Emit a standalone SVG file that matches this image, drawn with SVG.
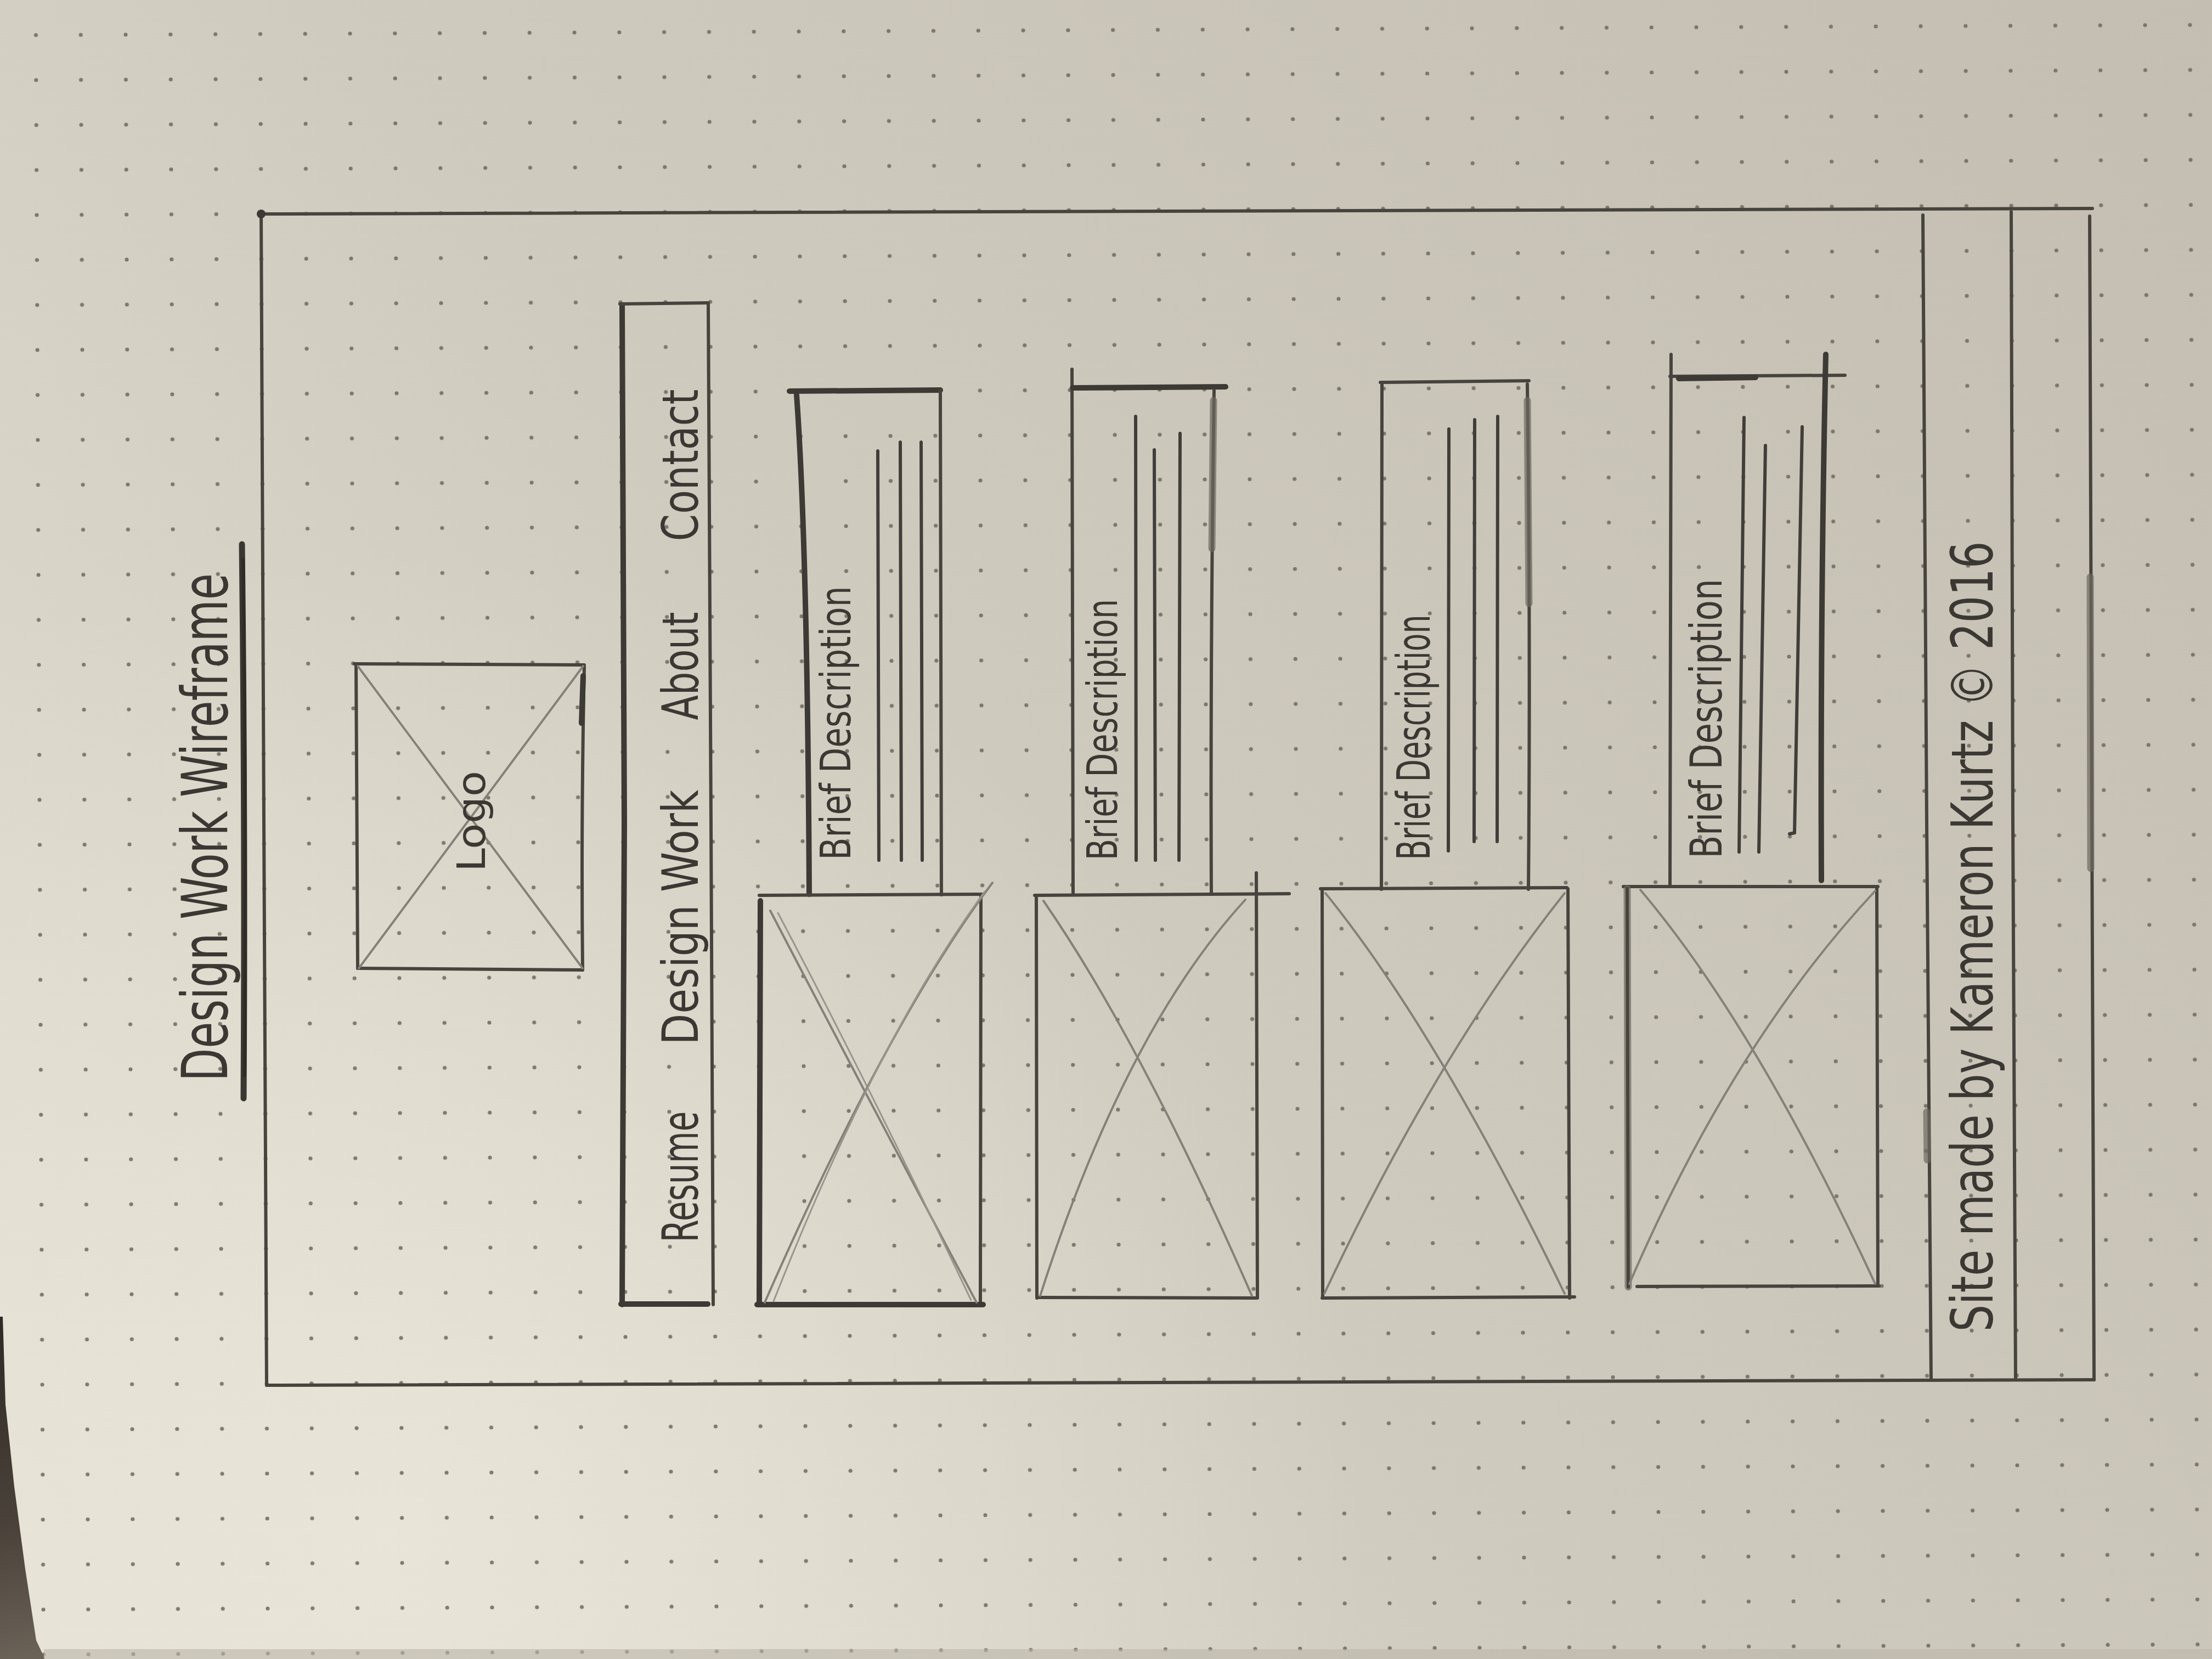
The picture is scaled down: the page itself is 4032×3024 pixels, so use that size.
<svg xmlns="http://www.w3.org/2000/svg" width="4032" height="3024" viewBox="0 0 4032 3024">
  <defs>
    <linearGradient id="paperTone" x1="0" y1="3024" x2="4032" y2="0" gradientUnits="userSpaceOnUse">
      <stop offset="0" stop-color="#e4e0d4"/>
      <stop offset="0.45" stop-color="#d0cbbf"/>
      <stop offset="1" stop-color="#c3beb1"/>
    </linearGradient>
    <radialGradient id="paperGlow" cx="700" cy="2800" r="1800" gradientUnits="userSpaceOnUse">
      <stop offset="0" stop-color="#ece8dc" stop-opacity="0.75"/>
      <stop offset="1" stop-color="#ece8dc" stop-opacity="0"/>
    </radialGradient>
    <linearGradient id="deskShade" x1="0" y1="2400" x2="80" y2="3024" gradientUnits="userSpaceOnUse">
      <stop offset="0" stop-color="#2f2a25"/>
      <stop offset="0.6" stop-color="#4a423a"/>
      <stop offset="1" stop-color="#6b6358"/>
    </linearGradient>
    <!-- dotted notebook grid, slightly tilted like the page -->
    <pattern id="dots" x="435.1" y="349" width="81.8" height="82" patternUnits="userSpaceOnUse" patternTransform="rotate(-0.27 476 390)">
      <circle cx="40.9" cy="41" r="3.6" fill="#6d685f" fill-opacity="0.85"/>
    </pattern>
    <style>
      .ln { fill: none; stroke: #47433d; stroke-width: 6; stroke-linecap: round; stroke-linejoin: round; }
      .thk { fill: none; stroke: #3d3934; stroke-width: 10; stroke-linecap: round; }
      .smudge { fill: none; stroke: #6e6961; stroke-width: 13; stroke-linecap: round; stroke-opacity: 0.7; }
      .xl { fill: none; stroke: #858078; stroke-width: 4; stroke-linecap: round; }
      .xf { fill: none; stroke: #9a958c; stroke-width: 3; stroke-linecap: round; }
      .rl { fill: none; stroke: #413d38; stroke-width: 6; stroke-linecap: round; }
      .txt { font-family: "Liberation Sans Narrow", "DejaVu Sans Condensed", "Liberation Sans", sans-serif; fill: #3b3833; }
    </style>
  </defs>

  <!-- paper -->
  <g id="paper">
    <rect x="0" y="0" width="4032" height="3024" fill="url(#paperTone)"/>
    <rect x="0" y="0" width="4032" height="3024" fill="url(#paperGlow)"/>
    <rect x="0" y="0" width="4032" height="3024" fill="url(#dots)"/>
    <path d="M0 2400 L5 2400 L10 2560 L26 2710 L46 2860 L66 2990 L82 3024 L0 3024 Z" fill="url(#deskShade)"/>
    <rect x="80" y="3006" width="3952" height="18" fill="#bbb6a9" opacity="0.6"/>
  </g>

  <!-- page outline -->
  <g id="page-frame">
    <path class="ln" d="M476 390 L3814 380"/>
    <path class="ln" d="M476 390 L481 1500 L486 2525"/>
    <path class="ln" d="M486 2525 L3817 2515"/>
    <path class="ln" d="M3809 394 L3813 1500 L3817 2515"/>
    <path class="smudge" d="M3810 1052 L3811 1583"/>
    <circle cx="476" cy="390" r="8" fill="#3d3934"/>
  </g>

  <!-- page title -->
  <g id="title">
    <text class="txt" transform="translate(414,1508) rotate(-90)" text-anchor="middle" font-size="115" textLength="926" lengthAdjust="spacingAndGlyphs">Design Work Wireframe</text>
    <path d="M441 992 Q447 1500 444 2002" fill="none" stroke="#3a3631" stroke-width="11" stroke-linecap="round"/>
    <path d="M443 1020 Q449 1500 446 1960" fill="none" stroke="#2f2b27" stroke-width="6" stroke-linecap="round"/>
  </g>

  <!-- logo placeholder -->
  <g id="logo">
    <path class="ln" d="M646 1210 L1065 1212"/>
    <path class="ln" d="M649 1212 L652 1765"/>
    <path class="ln" d="M652 1765 L1062 1768"/>
    <path class="ln" d="M1065 1215 Q1059 1500 1062 1768"/>
    <path class="thk" d="M1063 1232 L1060 1318"/>
    <path class="xl" d="M652 1214 L1062 1765"/>
    <path class="xl" d="M1063 1214 L654 1765"/>
    <text class="txt" transform="translate(884,1497) rotate(-90)" text-anchor="middle" font-size="72" textLength="184" lengthAdjust="spacingAndGlyphs">Logo</text>
  </g>

  <!-- navigation bar -->
  <g id="nav">
    <path class="thk" d="M1134 556 L1138 1500 L1134 2378" stroke-width="8"/>
    <path class="ln" d="M1130 554 L1291 552"/>
    <path class="ln" d="M1291 554 L1296 1500 L1300 2378"/>
    <path class="thk" d="M1132 2377 L1290 2377" stroke-width="8"/>
    <g text-anchor="middle" font-size="90">
      <text class="txt" transform="translate(1272,2145) rotate(-90)" textLength="239" lengthAdjust="spacingAndGlyphs">Resume</text>
      <text class="txt" transform="translate(1272,1672) rotate(-90)" textLength="465" lengthAdjust="spacingAndGlyphs">Design Work</text>
      <text class="txt" transform="translate(1272,1214) rotate(-90)" textLength="197" lengthAdjust="spacingAndGlyphs">About</text>
      <text class="txt" transform="translate(1272,848) rotate(-90)" textLength="277" lengthAdjust="spacingAndGlyphs">Contact</text>
    </g>
  </g>

  <!-- project card 1 -->
  <g id="card-1">
    <path class="thk" d="M1439 713 L1714 711"/>
    <path class="thk" d="M1452 720 Q1472 1000 1475 1630" stroke-width="11"/>
    <path class="ln" d="M1714 711 L1716 1631"/>
    <path class="rl" d="M1600 822 L1602 1568"/>
    <path class="rl" d="M1641 806 L1643 1568"/>
    <path class="rl" d="M1679 806 L1681 1568"/>
    <text class="txt" transform="translate(1550,1318) rotate(-90)" text-anchor="middle" font-size="76" textLength="499" lengthAdjust="spacingAndGlyphs">Brief Description</text>
    <path class="ln" d="M1384 1632 L1790 1630"/>
    <path class="thk" d="M1386 1642 L1384 2378" stroke-width="8"/>
    <path class="ln" d="M1788 1632 L1787 2378"/>
    <path class="thk" d="M1380 2378 L1792 2378" stroke-width="8"/>
    <path class="xl" d="M1404 1660 Q1560 1960 1780 2374"/>
    <path class="xf" d="M1418 1664 Q1585 1980 1770 2370"/>
    <path class="xl" d="M1809 1609 Q1620 1860 1394 2374"/>
    <path class="xf" d="M1795 1625 Q1600 1890 1410 2372"/>
  </g>

  <!-- project card 2 -->
  <g id="card-2">
    <path class="ln" d="M1954 673 L1956 1630"/>
    <path class="thk" d="M1955 707 L2234 705" stroke-width="8"/>
    <path class="ln" d="M2213 712 Q2206 1200 2208 1630"/>
    <path class="smudge" d="M2212 730 L2209 1000"/>
    <path class="rl" d="M2070 759 L2071 1568"/>
    <path class="rl" d="M2104 820 L2106 1568"/>
    <path class="rl" d="M2151 790 L2149 1568"/>
    <text class="txt" transform="translate(2036,1330) rotate(-90)" text-anchor="middle" font-size="76" textLength="476" lengthAdjust="spacingAndGlyphs">Brief Description</text>
    <path class="ln" d="M1886 1632 L2350 1629"/>
    <path class="ln" d="M1889 1636 L1890 2366"/>
    <path class="ln" d="M2290 1591 L2292 2366"/>
    <path class="ln" d="M1893 2365 L2290 2366"/>
    <path class="xl" d="M1902 1642 Q2080 1900 2282 2362"/>
    <path class="xl" d="M2270 1640 Q2050 1880 1896 2362"/>
  </g>

  <!-- project card 3 -->
  <g id="card-3">
    <path class="ln" d="M2516 697 L2787 694"/>
    <path class="ln" d="M2519 698 L2518 1621"/>
    <path class="ln" d="M2784 700 Q2790 1150 2786 1621"/>
    <path class="smudge" d="M2784 730 L2787 1100"/>
    <path class="rl" d="M2641 782 L2640 1551"/>
    <path class="rl" d="M2688 765 L2687 1534"/>
    <path class="rl" d="M2730 759 L2729 1534"/>
    <text class="txt" transform="translate(2606,1344) rotate(-90)" text-anchor="middle" font-size="84" textLength="447" lengthAdjust="spacingAndGlyphs">Brief Description</text>
    <path class="ln" d="M2407 1620 L2856 1618"/>
    <path class="ln" d="M2410 1622 L2411 2366"/>
    <path class="ln" d="M2858 1620 L2861 2366"/>
    <path class="ln" d="M2410 2366 L2870 2364"/>
    <path class="xl" d="M2416 1628 Q2620 1880 2852 2358"/>
    <path class="xl" d="M2852 1628 Q2620 1920 2414 2358"/>
  </g>

  <!-- project card 4 -->
  <g id="card-4">
    <path class="ln" d="M3044 686 L3363 684"/>
    <path class="thk" d="M3060 690 L3200 688" stroke-width="8"/>
    <path class="ln" d="M3046 646 L3044 1616"/>
    <path class="thk" d="M3328 646 Q3318 1100 3320 1605" stroke-width="8"/>
    <path class="rl" d="M3179 761 L3170 1553" stroke-width="7"/>
    <path class="rl" d="M3218 812 L3206 1553" stroke-width="7"/>
    <path class="rl" d="M3285 778 L3271 1518" stroke-width="7"/>
    <path class="rl" d="M3271 1518 L3262 1520" stroke-width="4"/>
    <text class="txt" transform="translate(3138,1310) rotate(-90)" text-anchor="middle" font-size="80" textLength="509" lengthAdjust="spacingAndGlyphs">Brief Description</text>
    <path class="ln" d="M2959 1616 L3423 1616"/>
    <path class="smudge" d="M2966 1620 L2968 2346" stroke-width="11"/>
    <path class="ln" d="M2966 1620 L2968 2346"/>
    <path class="ln" d="M3421 1618 L3423 2344"/>
    <path class="ln" d="M2984 2345 L3425 2344"/>
    <path class="xl" d="M2990 1622 Q3200 1870 3418 2340"/>
    <path class="xl" d="M3418 1624 Q3160 1900 2970 2340"/>
  </g>

  <!-- footer strip -->
  <g id="footer">
    <path class="ln" d="M3505 392 L3512 1500 L3520 2515"/>
    <path class="smudge" d="M3512 2027 L3513 2114"/>
    <path class="ln" d="M3666 386 L3669 1500 L3674 2515"/>
    <text class="txt" transform="translate(3632,1707) rotate(-90)" text-anchor="middle" font-size="105" textLength="1441" lengthAdjust="spacingAndGlyphs">Site made by Kameron Kurtz © 2016</text>
  </g>
</svg>
